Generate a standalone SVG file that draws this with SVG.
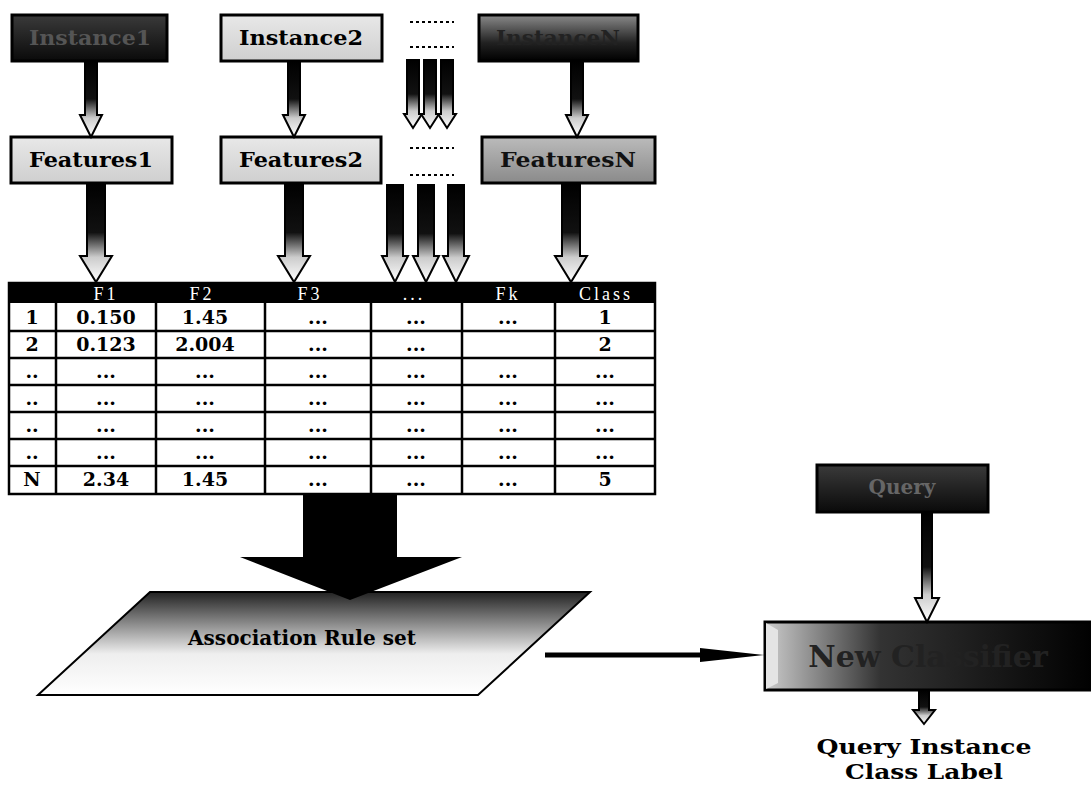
<svg xmlns="http://www.w3.org/2000/svg" width="1091" height="810" viewBox="0 0 1091 810">
<style>
.box{stroke:#000;stroke-width:3}
.lbl{font-family:"DejaVu Serif","Liberation Serif",serif;font-weight:bold;font-size:20px;text-anchor:middle}
.arr{stroke:#000;stroke-width:2;stroke-linejoin:miter}
.hd{font-family:"Liberation Serif",serif;font-size:18px;fill:#fff;text-anchor:middle;letter-spacing:3px}
.cell{font-family:"DejaVu Serif","Liberation Serif",serif;font-weight:bold;font-size:19px;text-anchor:middle;fill:#000}
.grid{stroke:#000;stroke-width:2.5;fill:none}
</style>
<defs>
<linearGradient id="gArr" x1="0" y1="0" x2="0" y2="1">
<stop offset="0" stop-color="#000"/><stop offset="0.5" stop-color="#111"/><stop offset="0.75" stop-color="#ccc"/><stop offset="1" stop-color="#fff"/>
</linearGradient>
<linearGradient id="gLight" x1="0" y1="0" x2="0" y2="1">
<stop offset="0" stop-color="#e8e8e8"/><stop offset="1" stop-color="#cfcfcf"/>
</linearGradient>
<linearGradient id="gMid" x1="0" y1="0" x2="0" y2="1">
<stop offset="0" stop-color="#bbb"/><stop offset="1" stop-color="#8a8a8a"/>
</linearGradient>
<linearGradient id="gDark" x1="0" y1="0" x2="0" y2="1">
<stop offset="0" stop-color="#3a3a3a"/><stop offset="1" stop-color="#0a0a0a"/>
</linearGradient>
<linearGradient id="gDarkN" x1="0" y1="0" x2="0" y2="1">
<stop offset="0" stop-color="#8a8a8a"/><stop offset="0.6" stop-color="#222"/><stop offset="1" stop-color="#000"/>
</linearGradient>
<linearGradient id="gPara" x1="0" y1="0" x2="0" y2="1">
<stop offset="0" stop-color="#222"/><stop offset="0.3" stop-color="#888"/><stop offset="0.6" stop-color="#eee"/><stop offset="1" stop-color="#fff"/>
</linearGradient>
<linearGradient id="gClass" x1="0" y1="0" x2="1" y2="0">
<stop offset="0" stop-color="#ccc"/><stop offset="0.35" stop-color="#333"/><stop offset="1" stop-color="#000"/>
</linearGradient>
</defs>

<g id="instance1"><rect class="box" x="12" y="15" width="155" height="46" fill="url(#gDark)"/><text class="lbl" x="90" y="45" fill="#555" textLength="122" lengthAdjust="spacingAndGlyphs">Instance1</text></g>
<g id="instance2"><rect class="box" x="221" y="15" width="161" height="46" fill="url(#gLight)"/><text class="lbl" x="301" y="45" textLength="124" lengthAdjust="spacingAndGlyphs">Instance2</text></g>
<g id="instanceN"><rect class="box" x="479" y="15" width="159" height="46" fill="url(#gDarkN)"/><text class="lbl" x="558" y="45" fill="#222" textLength="124" lengthAdjust="spacingAndGlyphs">InstanceN</text></g>
<g id="features1"><rect class="box" x="11" y="137" width="161" height="46" fill="url(#gLight)"/><text class="lbl" x="91" y="167" textLength="124" lengthAdjust="spacingAndGlyphs">Features1</text></g>
<g id="features2"><rect class="box" x="221" y="137" width="160" height="46" fill="url(#gLight)"/><text class="lbl" x="301" y="167" textLength="124" lengthAdjust="spacingAndGlyphs">Features2</text></g>
<g id="featuresN"><rect class="box" x="482" y="137" width="173" height="46" fill="url(#gMid)"/><text class="lbl" x="568" y="167" fill="#111" textLength="136" lengthAdjust="spacingAndGlyphs">FeaturesN</text></g>

<g id="dots" stroke="#000" stroke-width="2" stroke-dasharray="3,3">
<line x1="410" y1="22" x2="454" y2="22"/><line x1="410" y1="47" x2="454" y2="47"/>
<line x1="410" y1="148" x2="454" y2="148"/><line x1="410" y1="175" x2="454" y2="175"/>
</g>

<g id="table">
<rect x="9" y="283" width="646" height="211" fill="#fff"/>
<rect x="9" y="283" width="646" height="20" fill="#000"/>
<g class="grid">
<rect x="9" y="283" width="646" height="211"/>
<path d="M9 331H655M9 358H655M9 385H655M9 412H655M9 439H655M9 466H655"/>
<path d="M56 303V494M156 303V494M265 303V494M371 303V494M462 303V494M555 303V494"/>
</g>
<text class="hd" x="106" y="300">F1</text><text class="hd" x="202" y="300">F2</text><text class="hd" x="310" y="300">F3</text><text class="hd" x="414" y="300">...</text><text class="hd" x="508" y="300">Fk</text><text class="hd" x="606" y="300">Class</text>
<g class="cell">
<text x="32" y="324">1</text><text x="106" y="324">0.150</text><text x="205" y="324">1.45</text><text x="318" y="324">...</text><text x="416" y="324">...</text><text x="508" y="324">...</text><text x="605" y="324">1</text>
<text x="32" y="351">2</text><text x="106" y="351">0.123</text><text x="205" y="351">2.004</text><text x="318" y="351">...</text><text x="416" y="351">...</text><text x="605" y="351">2</text>
<text x="32" y="378">..</text><text x="106" y="378">...</text><text x="205" y="378">...</text><text x="318" y="378">...</text><text x="416" y="378">...</text><text x="508" y="378">...</text><text x="605" y="378">...</text>
<text x="32" y="405">..</text><text x="106" y="405">...</text><text x="205" y="405">...</text><text x="318" y="405">...</text><text x="416" y="405">...</text><text x="508" y="405">...</text><text x="605" y="405">...</text>
<text x="32" y="432">..</text><text x="106" y="432">...</text><text x="205" y="432">...</text><text x="318" y="432">...</text><text x="416" y="432">...</text><text x="508" y="432">...</text><text x="605" y="432">...</text>
<text x="32" y="459">..</text><text x="106" y="459">...</text><text x="205" y="459">...</text><text x="318" y="459">...</text><text x="416" y="459">...</text><text x="508" y="459">...</text><text x="605" y="459">...</text>
<text x="32" y="486">N</text><text x="106" y="486">2.34</text><text x="205" y="486">1.45</text><text x="318" y="486">...</text><text x="416" y="486">...</text><text x="508" y="486">...</text><text x="605" y="486">5</text>
</g>
</g>

<g id="ruleset">
<polygon points="150,592 590,592 478,695 38,695" fill="url(#gPara)" stroke="#000" stroke-width="2"/>
<text class="lbl" x="302" y="645" textLength="228" lengthAdjust="spacingAndGlyphs">Association Rule set</text>
</g>

<g id="query"><rect class="box" x="817" y="465" width="171" height="47" fill="url(#gDark)"/><text class="lbl" x="902" y="494" fill="#666">Query</text></g>

<g id="classifier">
<rect x="765" y="622" width="330" height="68" fill="url(#gClass)" stroke="#000" stroke-width="3"/>
<polygon points="766,623 778,630 778,683 766,689" fill="#e4e4e4"/>
<text x="928" y="667" font-family="DejaVu Serif, Liberation Serif, serif" font-weight="bold" font-size="30" text-anchor="middle" fill="#222">New Classifier</text>
</g>

<g id="output"><text class="lbl" x="924" y="754" textLength="215" lengthAdjust="spacingAndGlyphs">Query Instance</text><text class="lbl" x="924" y="779" textLength="158" lengthAdjust="spacingAndGlyphs">Class Label</text></g>

<g id="connectors">
<g class="arr" fill="url(#gArr)">
<path d="M85 61H97V115H102L91 137L80 115H85Z"/>
<path d="M288 61H300V115H305L294 137L283 115H288Z"/>
<path d="M571 61H583V115H588L577 137L566 115H571Z"/>
<path d="M407 60H419V114H422L413 128L404 114H407Z"/>
<path d="M424 60H436V114H439L430 128L421 114H424Z"/>
<path d="M441 60H453V114H456L447 128L438 114H441Z"/>
<path d="M87 183H105V256H112L96 282L80 256H87Z"/>
<path d="M285 183H303V256H310L294 282L278 256H285Z"/>
<path d="M387 185H403V256H408L395 282L382 256H387Z"/>
<path d="M418 185H434V256H439L426 282L413 256H418Z"/>
<path d="M448 185H464V256H469L456 282L443 256H448Z"/>
<path d="M562 183H580V256H587L571 282L555 256H562Z"/>
<path d="M922 512H932V598H939L927 622L915 598H922Z"/>
<path d="M919 690H929V710H935L924 724L913 710H919Z"/>
</g>
<polygon points="303,494 397,494 397,557 462,557 350,600 240,557 303,557" fill="#000"/>
<line x1="545" y1="655" x2="712" y2="655" stroke="#000" stroke-width="5"/>
<polygon points="700,648 765,655 700,662" fill="#000"/>
</g>
</svg>
